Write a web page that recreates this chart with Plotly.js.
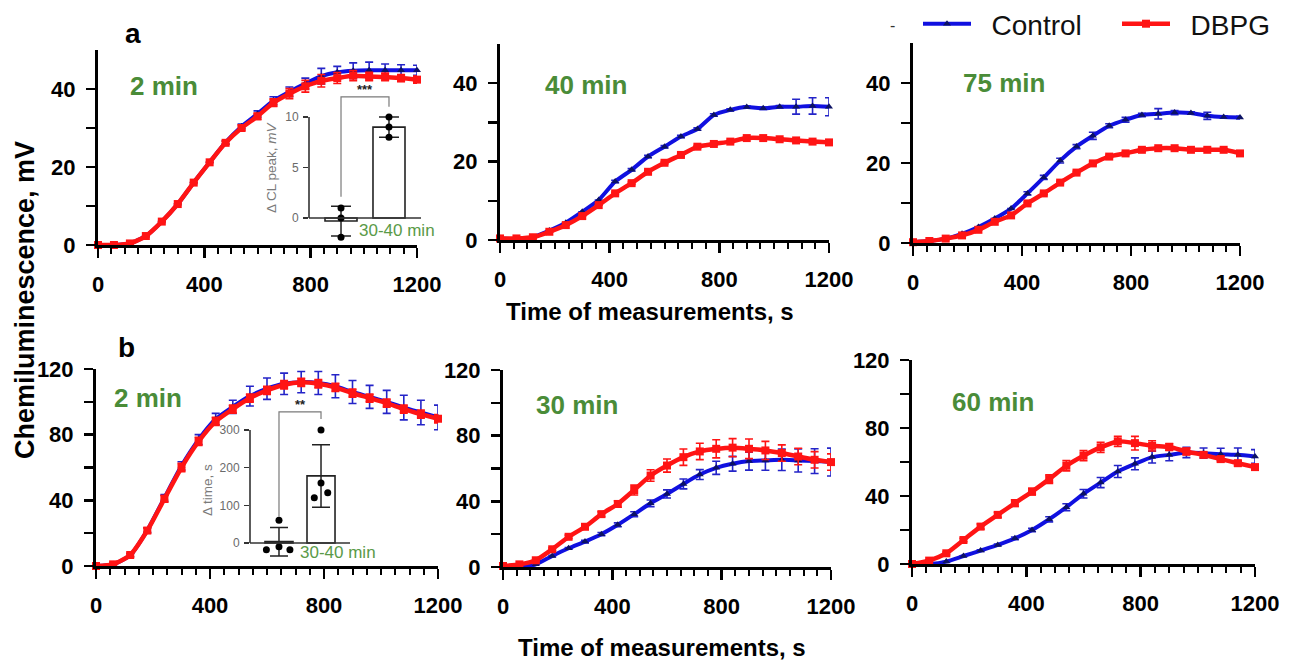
<!DOCTYPE html>
<html><head><meta charset="utf-8">
<script src="https://cdn.plot.ly/plotly-3.0.1.min.js"></script>
<style>html,body{margin:0;padding:0;background:#fff}#chart{width:1302px;height:661px}</style>
</head><body><div id="chart"></div>
<script>
// ---------- DATA ----------
const time = [0,60,120,180,240,300,360,420,480,540,600,660,720,780,840,900,960,1020,1080,1140,1200];

// a: 2 min
const a2Control    = [0,0,0.4,2.3,6.0,10.5,16.0,21.2,26.3,30.4,33.6,37.0,39.3,41.4,43.3,44.3,44.7,44.8,44.8,44.8,44.8];
const a2ControlErr = [0,0,0,0,0,0,0,0,0.4,0.6,0.8,1.0,1.2,1.4,2.0,1.5,2.0,2.1,1.6,1.4,1.3];
const a2DBPG       = [0,0,0.4,2.3,6.0,10.5,16.0,21.2,26.2,30.0,33.0,36.5,38.8,40.7,42.1,42.8,43.4,43.2,43.1,42.8,42.4];
const a2DBPGErr    = [0,0,0,0,0,0,0,0,0.4,0.6,0.8,1.0,1.3,1.5,1.6,1.4,1.3,1.1,1.0,0.9,0.9];
// a: 40 min
const a40Control    = [0.4,0.2,0.7,2.4,4.4,7.2,10.2,14.9,17.9,21.3,23.8,26.4,28.3,31.9,33.2,33.9,33.6,34.0,34.0,34.2,34.0];
const a40ControlErr = [0,0,0,0,0,0,0,0.3,0.3,0.3,0.3,0.3,0.3,0.3,0.3,0.3,0.3,0.3,1.9,2.1,2.3];
const a40DBPG       = [0.4,0.4,0.7,2.1,3.8,6.1,8.9,11.9,14.5,17.4,19.7,21.7,23.8,24.5,25.1,26.0,26.0,25.7,25.4,25.1,24.9];
const a40DBPGErr    = [0,0,0,0,0,0,0,0.3,0.3,0.3,0.3,0.3,0.3,0.3,0.3,0.3,0.3,0.3,0.3,0.3,0.3];
// a: 75 min
const a75Control    = [0.2,0.5,1.1,2.3,4.0,6.1,8.6,12.4,16.4,20.6,24.1,26.8,29.3,30.8,32.0,32.3,32.6,32.5,31.8,31.5,31.4];
const a75ControlErr = [0,0,0,0,0,0,0,0.4,0.5,0.6,0.5,0.9,0.5,0.6,0.4,1.3,0.5,0.3,0.9,0.3,0.3];
const a75DBPG       = [0.2,0.5,1.1,1.9,3.3,5.3,6.9,9.9,12.4,15.1,17.6,19.9,21.6,22.4,23.3,23.7,23.7,23.3,23.3,23.3,22.4];
const a75DBPGErr    = [0,0,0,0,0,0,0,0.3,0.3,0.3,0.3,0.3,0.3,0.3,0.3,0.3,0.3,0.3,0.3,0.3,0.3];
// b: 2 min
const b2Control    = [0,1,6.5,21.8,41.5,61,77,89.5,97,103.5,108,111,112,111.5,109.5,106,103,100,96.5,93.5,90.5];
const b2ControlErr = [0,0.5,1,1.5,2,2.5,3,3.5,4,6,6.5,6.5,6.5,7,7,7,7,7,7.5,7.5,7.5];
const b2DBPG       = [0,1,6.7,21.6,40.9,60,75.9,88.1,95.6,102.3,107,110.4,111.9,111,108.8,105.3,102.3,99.2,95.6,92.5,89.7];
const b2DBPGErr    = [0,0.5,1,1.5,2,2.5,2.5,2.5,2.5,2.5,2.5,2.5,2.5,2.5,2.5,2.5,2.5,2.5,2.5,2.5,2.5];
// b: 30 min
const b30Control    = [0,0,1.6,6.7,11.4,15.5,20,25.7,32.2,38.8,44.5,50.6,56.3,60.4,62.9,64.5,64.9,65.3,64.9,64.5,63.9];
const b30ControlErr = [0,0,0,0.5,0.5,0.8,1,1.2,1.5,2,2.5,3,3,4,4.5,5.5,6,6.5,7,7.5,8.5];
const b30DBPG       = [0.6,1.6,4.1,10.8,18.4,24.5,32.2,38.4,46.9,55.7,61.8,66.9,70.4,72,72.7,72,71,69.4,67.3,65.3,63.9];
const b30DBPGErr    = [0,0,0.5,0.8,1,1.2,1.5,2,3,3.5,4,5,5,5.5,5.5,6,5.5,5,5,5,5];
// b: 60 min
const b60Control    = [0,0,1.4,4.7,7.9,11.2,15.1,20,26.3,33.4,41.3,47.9,54.4,58.9,62.9,64.2,65.6,65.2,64.6,64.2,63.3];
const b60ControlErr = [0,0,0,0,0.5,0.5,0.8,1,1.5,2,2.5,3,3.5,3.5,3.5,3.5,3,3,3.5,4,4];
const b60DBPG       = [0,2,6.3,14.1,22,28.9,35.8,42.6,49.9,57.8,63.7,68.6,72.1,71.1,69.5,68.8,66.2,64.2,61.7,59.3,57];
const b60DBPGErr    = [0,0.5,0.8,1,1.5,1.5,2,2,2.5,3,3,3,3,4,3,2,2,1.5,1.5,1.5,1.5];

const panelLabels = ['2 min','40 min','75 min','2 min','30 min','60 min'];
const seriesNames = ['Control','DBPG'];
const xTicks = [0,400,800,1200];
const yTicksTop = [0,10,20,30,40];      const yTextTop = ['0','','20','','40'];
const yTicksBot = [0,20,40,60,80,100,120]; const yTextBot = ['0','','40','','80','','120'];

// insets: Δ CL peak (a) and Δ time (b), 30-40 min
const insetGroups = [0,1];
const insetAMean = [-0.3, 9.0];
const insetASD   = [1.47, 1.0];
const insetADots = [[1.0, 0.0, -1.9],[10.0, 9.0, 8.0]];
const insetAJit  = [[0,0,0],[0,0,0]];
const insetBMean = [3.5, 178];
const insetBSD   = [37.8, 83];
const insetBDots = [[60,-10,-18,-18],[300,159,120,133]];
const insetBJit  = [[0,0,-0.3,0.26],[0,0,-0.16,0.16]];
const insetAStars = '***', insetBStars = '**';

// ---------- LAYOUT GEOMETRY ----------
const W=1302, H=661;
const fx = v => v/W, fy = v => 1 - v/H;
const FONT = 'Arial, "Liberation Sans", sans-serif';
const GREEN = '#4a8c38';
const BLUE = '#1010e0', BLUEMK = '#0c1264', BLUEERR = '#2424c8', RED = '#ff1414';
const NB = '\u00a0\u00a0';

// [left px, right px, y0 px, ytop px, ymax]
const geo = [
  [98,417,245,50,50],[500,829,240,44,50],[913,1240,243,43,50],
  [96,438,566,369,120],[503,831,567,370,120],[912,1255,564,360,120]
];
const labelPos = [[164,86],[586,85],[1004,83],[148,398],[577,405],[993,402]];
const ctrlSets = [[a2Control,a2ControlErr],[a40Control,a40ControlErr],[a75Control,a75ControlErr],
                  [b2Control,b2ControlErr],[b30Control,b30ControlErr],[b60Control,b60ControlErr]];
const dbpgSets = [[a2DBPG,a2DBPGErr],[a40DBPG,a40DBPGErr],[a75DBPG,a75DBPGErr],
                  [b2DBPG,b2DBPGErr],[b30DBPG,b30DBPGErr],[b60DBPG,b60DBPGErr]];

const legFont = {family:FONT, size:28, color:'#111'};
const layout = {
  width: W, height: H, margin:{l:0,r:0,t:0,b:0, autoexpand:false},
  paper_bgcolor:'#fff', plot_bgcolor:'rgba(0,0,0,0)',
  font:{family:FONT, color:'#000'},
  showlegend:true,
  legend:{orientation:'h', x:fx(918), xanchor:'left', y:fy(24), yanchor:'middle',
          font:legFont, itemwidth:48, bgcolor:'rgba(0,0,0,0)'},
  legend2:{orientation:'h', x:fx(1117), xanchor:'left', y:fy(24), yanchor:'middle',
          font:legFont, itemwidth:48, bgcolor:'rgba(0,0,0,0)'},
  annotations:[], shapes:[]
};
const traces = [];
const tickFont = {family:FONT, size:22, color:'#000', weight:'bold'};

geo.forEach((g,i)=>{
  const n = i+1, xa = 'xaxis'+(n===1?'':n), ya = 'yaxis'+(n===1?'':n);
  const xr = 'x'+(n===1?'':n), yr = 'y'+(n===1?'':n);
  const top = i<3;
  const y0 = g[2], ytop = g[3];
  layout[xa] = {domain:[fx(g[0]),fx(g[1])], range:[0,1200], anchor:yr, automargin:false,
    tickmode:'array', tickvals:xTicks, ticks:'outside', ticklen:10, tickwidth:2.5, tickcolor:'#000',
    showline:true, linewidth:3, linecolor:'#000', showgrid:false, zeroline:false,
    tickfont:tickFont, ticklabelstandoff:8,
    minor:{tickmode:'linear', tick0:0, dtick:50, ticks:'outside', ticklen:6, tickwidth:2, tickcolor:'#000', showgrid:false}};
  layout[ya] = {domain:[fy(y0),fy(ytop)], range:[0,g[4]], anchor:xr, automargin:false,
    tickmode:'array', tickvals: top?yTicksTop:yTicksBot, ticktext: top?yTextTop:yTextBot,
    ticks:'outside', ticklen:9, tickwidth:2.5, tickcolor:'#000',
    showline:true, linewidth:3, linecolor:'#000', showgrid:false, zeroline:false,
    tickfont:tickFont, ticklabelstandoff:6};
  const c = ctrlSets[i], d = dbpgSets[i];
  traces.push({type:'scatter', mode:'lines+markers', x:time, y:c[0], xaxis:xr, yaxis:yr,
    name:NB+seriesNames[0], legend:'legend', showlegend:i===0, cliponaxis:false,
    line:{color:BLUE, width:4, shape:'spline', smoothing:0.6},
    marker:{symbol:'triangle-up', size:7, color:BLUEMK},
    error_y:{type:'data', array:c[1], visible:true, color:BLUEERR, thickness:1.6, width:4}});
  traces.push({type:'scatter', mode:'lines+markers', x:time, y:d[0], xaxis:xr, yaxis:yr,
    name:NB+seriesNames[1], legend:'legend2', showlegend:i===0, cliponaxis:false,
    line:{color:RED, width:4.5, shape:'spline', smoothing:0.6},
    marker:{symbol:'square', size:8, color:RED},
    error_y:{type:'data', array:d[1], visible:true, color:RED, thickness:1.6, width:4}});
  layout.annotations.push({xref:'paper', yref:'paper', x:fx(labelPos[i][0]), y:fy(labelPos[i][1]),
    text:panelLabels[i], showarrow:false, xanchor:'center', yanchor:'middle',
    font:{family:FONT, size:26, color:GREEN, weight:'bold'}});
});

// ---------- INSETS ----------
function inset(n, xpx, ypx, yrange, xrange, mean, sd, dots, jit, ytv, title, titlePx, starTxt, starsOff, lblPx, capW) {
  const xa='xaxis'+n, ya='yaxis'+n, xr='x'+n, yr='y'+n;
  layout[xa] = {domain:[fx(xpx[0]),fx(xpx[1])], range:xrange, anchor:yr, showline:false, showgrid:false, automargin:false,
    zeroline:false, showticklabels:false, ticks:''};
  layout[ya] = {domain:[fy(ypx[0]),fy(ypx[1])], range:yrange, anchor:xr, showline:false, showgrid:false, automargin:false,
    zeroline:false, tickmode:'array', tickvals:ytv, ticks:'outside', ticklen:5, tickwidth:1.5, tickcolor:'#333',
    tickfont:{family:FONT, size:12, color:'#6a6a6a'}, ticklabelstandoff:2};
  traces.push({type:'bar', x:insetGroups, y:mean, width:0.667, xaxis:xr, yaxis:yr, showlegend:false,
    marker:{color:'#fff', line:{color:'#222', width:1.6}},
    error_y:{type:'data', array:sd, visible:true, color:'#222', thickness:1.5, width:capW}});
  const dx=[], dy=[];
  dots.forEach((arr,g)=>arr.forEach((v,k)=>{dx.push(insetGroups[g]+jit[g][k]); dy.push(v);}));
  traces.push({type:'scatter', mode:'markers', x:dx, y:dy, xaxis:xr, yaxis:yr, showlegend:false, cliponaxis:false,
    marker:{color:'#000', size:7}});
  layout.shapes.push({type:'line', xref:xr+' domain', yref:yr, x0:0, x1:0, y0:0, y1:ytv[ytv.length-1], line:{color:'#333', width:1.6}});
  layout.shapes.push({type:'line', xref:xr+' domain', yref:yr, x0:0, x1:1, y0:0, y1:0, line:{color:'#333', width:1.6}});
  const m1 = Math.max(...dots[0]), m2 = Math.max(...dots[1]);
  const span = yrange[1]-yrange[0];
  const topY = m2 + starsOff[0]*span, leg2 = m2 + starsOff[1]*span, leg1 = m1 + starsOff[2]*span;
  layout.shapes.push({type:'path', xref:xr, yref:yr,
    path:`M ${insetGroups[0]} ${leg1} L ${insetGroups[0]} ${topY} L ${insetGroups[1]} ${topY} L ${insetGroups[1]} ${leg2}`,
    line:{color:'#7a7a7a', width:1.2}});
  layout.annotations.push({xref:xr, yref:yr, x:(insetGroups[0]+insetGroups[1])/2, y:topY, yanchor:'bottom', yshift:-2,
    text:starTxt, showarrow:false, font:{family:FONT, size:13, color:'#222', weight:'bold'}});
  layout.annotations.push({xref:'paper', yref:'paper', x:fx(titlePx[0]), y:fy(titlePx[1]), text:title, textangle:-90,
    showarrow:false, xanchor:'center', yanchor:'middle', font:{family:FONT, size:13.5, color:'#7a7a7a'}});
  layout.annotations.push({xref:'paper', yref:'paper', x:fx(lblPx[0]), y:fy(lblPx[1]), text:'30-40 min',
    showarrow:false, xanchor:'center', yanchor:'middle', font:{family:FONT, size:17, color:'#5a9a48'}});
}
inset(7, [309,421], [243.25,91.75], [-2.5,12.5], [-0.667,1.667], insetAMean, insetASD, insetADots, insetAJit,
      [0,5,10], 'Δ CL peak, <i>mV</i>', [271,167], insetAStars, [0.133,0.067,0.073], [397,231], 10);
inset(8, [250,350], [561.8,392.3], [-50,400], [-0.69,1.69], insetBMean, insetBSD, insetBDots, insetBJit,
      [0,100,200,300], 'Δ time, s', [207,490], insetBStars, [0.107,0.064,0.022], [338,552], 9);

// ---------- TEXT ----------
const bold = (s,sz,x,y,ang)=>({xref:'paper', yref:'paper', x:fx(x), y:fy(y), text:s, showarrow:false,
  xanchor:'center', yanchor:'middle', textangle:ang||0, font:{family:FONT, size:sz, color:'#000', weight:'bold'}});
layout.annotations.push(bold('a',28,133,33));
layout.annotations.push(bold('b',28,126,347));
layout.annotations.push(bold('Chemiluminescence, mV',27,25,300,-90));
layout.annotations.push(bold('Time of measurements, s',24,650,312));
layout.annotations.push(bold('Time of measurements, s',24,662,647));
layout.annotations.push({xref:'paper', yref:'paper', x:fx(897), y:fy(15), text:'-', showarrow:false,
  font:{family:FONT, size:16, color:'#333'}});

Plotly.newPlot('chart', traces, layout, {staticPlot:true, displayModeBar:false});
</script></body></html>
